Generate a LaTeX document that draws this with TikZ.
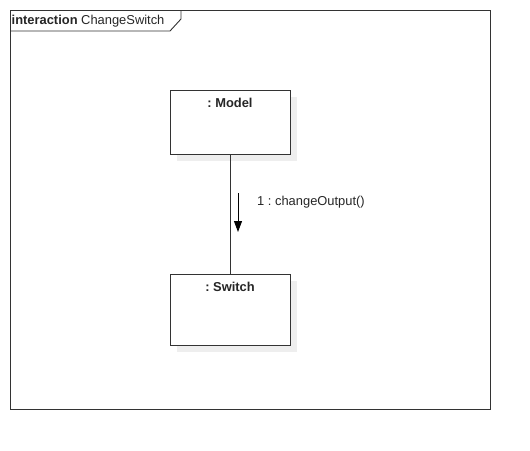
\documentclass[tikz,border=0pt]{standalone}
\usepackage{fontspec}
\setmainfont{Liberation Sans}
\usetikzlibrary{arrows.meta}
\definecolor{ln}{HTML}{333333}
\definecolor{shd}{HTML}{EEEEEE}
\frenchspacing
\tikzset{
  obj/.style={draw=ln, line width=0.9pt, fill=white, minimum width=120pt, minimum height=64pt, inner sep=0pt},
  lbl/.style={font=\fontsize{12.9pt}{15pt}\selectfont, inner sep=0pt, text=black!85}
}
\begin{document}
\begin{tikzpicture}[x=1pt,y=-1pt]
\useasboundingbox (0,0) rectangle (530,450);
% frame
\draw[ln, line width=0.9pt] (10,10) rectangle (490,409);
\draw[ln, line width=0.9pt] (10,31) -- (170,31) -- (181,19) -- (181,10);
\node[lbl, anchor=west] (title) at (11.5,21) {\textbf{interaction} ChangeSwitch};
% shadows
\fill[shd] (177,97) rectangle (297,161);
\fill[shd] (177,281) rectangle (297,352);
% objects
\node[obj, anchor=north west] (model) at (170,90) {};
\node[obj, anchor=north west, minimum height=71pt] (switch) at (170,274) {};
\node[lbl, font=\fontsize{12.9pt}{15pt}\selectfont\bfseries] (mlabel) at (230,102.5) {: Model};
\node[lbl, font=\fontsize{12.9pt}{15pt}\selectfont\bfseries] (slabel) at (230,286.5) {: Switch};
% link
\draw[ln, line width=0.9pt] (model.south) -- (switch.north);
% message arrow
\coordinate (a1) at (238,193);
\coordinate (a2) at (238,232);
\draw[black, line width=0.9pt, -{Triangle[length=11pt,width=8pt]}] (a1) -- (a2);
\node[lbl, anchor=west] (msg) at (257,202) {1 : changeOutput()};
\end{tikzpicture}
\end{document}
